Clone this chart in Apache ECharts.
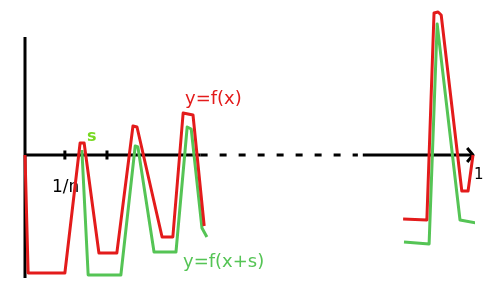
<!DOCTYPE html>
<html>
<head>
<meta charset="utf-8">
<script src="https://cdn.jsdelivr.net/npm/echarts@6/dist/echarts.min.js"></script>
<style>html,body{margin:0;padding:0;background:#fff;}#c{width:500px;height:300px;}</style>
</head>
<body>
<div id="c"></div>
<script>
// Coordinates in the sketch's own units: x in [0,1], y = 0 on the horizontal axis
var redLeft = [[0,0],[0.007,-1.18],[0.089,-1.18],[0.123,0.12],[0.132,0.12],[0.165,-0.98],[0.205,-0.98],
  [0.241,0.29],[0.25,0.28],[0.306,-0.82],[0.33,-0.82],[0.353,0.42],[0.375,0.40],[0.40,-0.71]];
var redRight = [[0.844,-0.64],[0.897,-0.65],[0.913,1.42],[0.922,1.43],[0.929,1.40],[0.975,-0.36],[0.989,-0.36],[1.0,0]];
var greenLeft = [[0.127,0.05],[0.141,-1.20],[0.214,-1.20],[0.246,0.09],[0.252,0.08],[0.288,-0.97],[0.337,-0.97],
  [0.362,0.28],[0.371,0.26],[0.395,-0.73],[0.406,-0.82]];
var greenRight = [[0.846,-0.87],[0.902,-0.89],[0.920,1.31],[0.971,-0.65],[1.007,-0.68]];
var yAxisLine = [[0,1.18],[0,-1.23]];
var xAxisSolid1 = [[0,0],[0.392,0]];
var xAxisDashed = [[0.392,0],[0.743,0]];
var xAxisSolid2 = [[0.754,0],[1.0,0]];
var arrowHead = [[0.987,0.07],[1.0,0],[0.987,-0.07]];
var tick1 = [[0.089,0.045],[0.089,-0.045]];
var tick2 = [[0.183,0.045],[0.183,-0.045]];
var labels = ['y=f(x)','y=f(x+s)','s','1/n','1'];

var RED = '#e31b1b', GREEN = '#55c455', BLACK = '#000';
function ln(data, color, dash, z){
  return {type:'line', data:data, showSymbol:false, symbol:'none', silent:true, z:z||2,
    lineStyle:{color:color, width:3, type:dash||'solid', cap:'butt', join:'round'}};
}
var chart = echarts.init(document.getElementById('c'), null, {renderer:'canvas'});
chart.setOption({
  animation:false,
  backgroundColor:'#fff',
  grid:{left:25, right:27, top:10, bottom:20},
  xAxis:{type:'value', min:0, max:1, show:false},
  yAxis:{type:'value', min:-1.25, max:1.45, show:false},
  series:[
    ln(yAxisLine, BLACK, null, 1),
    ln(xAxisSolid1, BLACK, null, 1),
    ln(xAxisDashed, BLACK, [7,12], 1),
    ln(xAxisSolid2, BLACK, null, 1),
    ln(arrowHead, BLACK, null, 1),
    ln(tick1, BLACK, null, 1),
    ln(tick2, BLACK, null, 1),
    ln(greenLeft, GREEN, null, 2),
    ln(greenRight, GREEN, null, 2),
    ln(redLeft, RED, null, 3),
    ln(redRight, RED, null, 3)
  ],
  graphic:[
    {type:'text', left:185, top:90, style:{text:labels[0], fill:RED, font:'18px "DejaVu Sans"'}},
    {type:'text', left:183, top:253, style:{text:labels[1], fill:GREEN, font:'18px "DejaVu Sans"'}},
    {type:'text', left:87, top:129, style:{text:labels[2], fill:'#77d922', font:'bold 16px "DejaVu Sans"'}},
    {type:'text', left:52, top:179, style:{text:labels[3], fill:BLACK, font:'17px "DejaVu Sans"'}},
    {type:'text', left:474, top:168, style:{text:labels[4], fill:BLACK, font:'15px "DejaVu Sans"'}}
  ]
});
</script>
</body>
</html>
